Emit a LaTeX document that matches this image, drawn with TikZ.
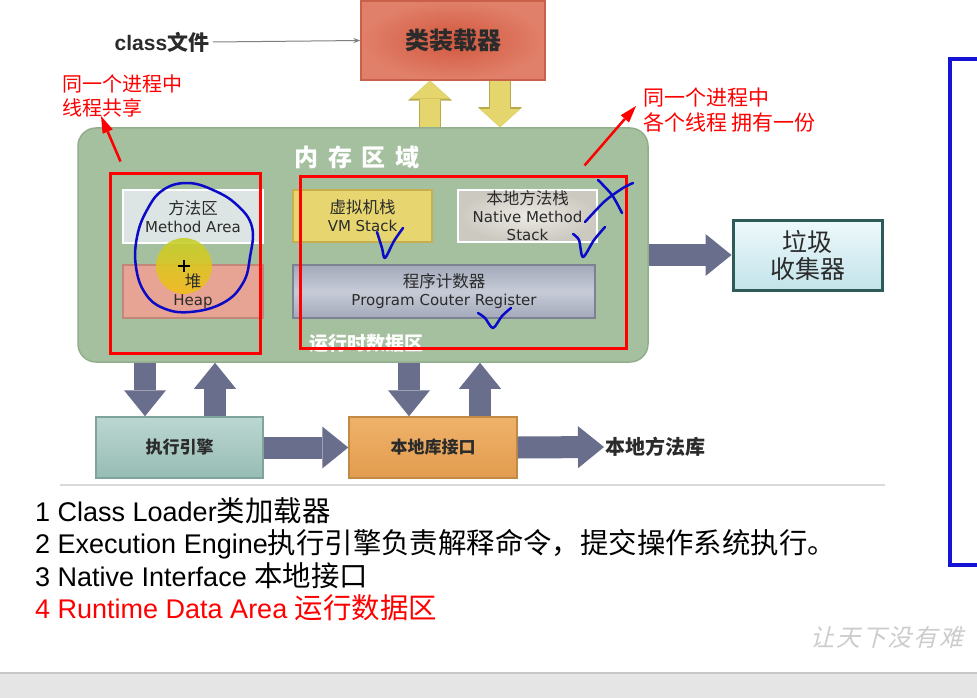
\documentclass[tikz,border=0pt]{standalone}
\usepackage{fontspec}
\setmainfont{Liberation Sans}
\newfontfamily\cjk{Noto Sans CJK SC}
\newfontfamily\titlefont[LetterSpace=40]{Noto Sans CJK SC}
\newfontfamily\boxfont{DejaVu Sans}
\newfontfamily\wmfont[FakeSlant=0.25,LetterSpace=8]{Noto Sans CJK SC}
\usetikzlibrary{arrows.meta}

\definecolor{memgreen}{HTML}{A5C09F}
\definecolor{memedge}{HTML}{93AE8D}
\definecolor{loaderin}{HTML}{D2573E}
\definecolor{loaderout}{HTML}{E1806A}
\definecolor{loaderedge}{HTML}{C8604A}
\definecolor{yfill}{HTML}{E4D66C}
\definecolor{yedge}{HTML}{B9AA4C}
\definecolor{arrowgray}{HTML}{686E8B}
\definecolor{methodfill}{HTML}{DCE5E3}
\definecolor{heapfill}{HTML}{E7A393}
\definecolor{heapedge}{HTML}{C3877A}
\definecolor{vmfill}{HTML}{E7D56F}
\definecolor{vmedge}{HTML}{C6B04E}
\definecolor{nativein}{HTML}{ECEAE4}
\definecolor{nativeout}{HTML}{CCC9C1}
\definecolor{pcrtop}{HTML}{A3A9BA}
\definecolor{pcrmid}{HTML}{C7CBD7}
\definecolor{pcredge}{HTML}{7C8294}
\definecolor{engtop}{HTML}{BCD7D1}
\definecolor{engbot}{HTML}{96BCB4}
\definecolor{engedge}{HTML}{7FA49C}
\definecolor{nattop}{HTML}{EFB26A}
\definecolor{natbot}{HTML}{E29C4F}
\definecolor{natedge}{HTML}{C38A45}
\definecolor{gctop}{HTML}{EEF9FB}
\definecolor{gcbot}{HTML}{C2E3EA}
\definecolor{gcedge}{HTML}{2E5A57}
\definecolor{inkblue}{HTML}{0A0AC8}
\definecolor{panelblue}{HTML}{1414D2}
\definecolor{boxtext}{HTML}{2B2B2B}
\definecolor{cursortop}{HTML}{C4D02A}
\definecolor{cursorbot}{HTML}{F2BC1C}

\newcommand{\boxzh}[1]{{\cjk\fontsize{16.5}{18}\selectfont #1}}
\newcommand{\listzh}[1]{{\cjk\fontsize{28.4}{32}\selectfont #1}}

\tikzset{
      areabox/.style={inner sep=0pt, line width=1.5, text=boxtext, align=center,
            font=\boxfont\fontsize{15}{18}\selectfont},
      loaderbox/.style={draw=loaderedge, line width=1.2, inner color=loaderin, outer color=loaderout,
            text=boxtext, font=\cjk\bfseries\fontsize{24}{28}\selectfont,
            minimum width=184, minimum height=79},
      membox/.style={draw=memedge, line width=1.5, fill=memgreen, rounded corners=18,
            minimum width=570, minimum height=234},
      lowbox/.style={line width=1.5, text=boxtext, font=\cjk\bfseries\fontsize{17}{20}\selectfont,
            minimum width=167, minimum height=61},
      gcbox/.style={draw=gcedge, line width=3, top color=gctop, bottom color=gcbot, text=boxtext,
            align=center, font=\cjk\fontsize{25}{27}\selectfont, minimum width=149, minimum height=70},
      redframe/.style={draw=red, line width=3},
      note/.style={text=red, align=left, inner sep=0pt, anchor=west},
      yarrow/.style={draw=yfill, line width=20, -{Triangle[width=40pt,length=18pt,line width=0pt]},
            preaction={draw=yedge, line width=22, -{Triangle[width=44pt,length=20pt,line width=0pt]}}},
      grayarrow/.style={draw=arrowgray, line width=22, -{Triangle[width=42pt,length=26pt,line width=0pt]}},
      thinarrow/.style={draw=gray, line width=1, -{Stealth[length=7pt,width=5pt]}},
      redarrow/.style={draw=red, line width=2.5, -{Triangle[width=11pt,length=17pt,line width=0pt]}},
      handink/.style={draw=inkblue, line width=2.5, line cap=round, line join=round},
      listline/.style={anchor=base west, inner sep=0pt, font=\fontsize{27}{32}\selectfont},
}

\begin{document}
\begin{tikzpicture}[x=1pt,y=-1pt]
        \useasboundingbox (0,0) rectangle (977,698);
        \fill[white] (0,0) rectangle (977,698);

        % Class loader on top
        \node[loaderbox] (loader) at (453,40.5) {类装载器};
        \node[font=\bfseries\fontsize{21}{24}\selectfont, text=boxtext] (classfile) at (162,42) {class{\cjk\bfseries 文件}};
        \draw[thinarrow] (classfile.east) -- (loader.west);

        % Memory area and its parts
        \node[membox] (mem) at (363,245) {};
        \node[text=white, font=\titlefont\bfseries\fontsize{24}{28}\selectfont] (memtitle) at (357,157) {内存区域};
        \node[text=white, font=\cjk\bfseries\fontsize{19}{22}\selectfont] (rtlabel) at (366,343) {运行时数据区};

        \node[areabox, fill=methodfill, draw=white, line width=2.5, minimum width=140, minimum height=53] (method) at (193,216.5) {\boxzh{方法区}\\Method Area};
        \node[areabox, fill=heapfill, draw=heapedge, minimum width=140, minimum height=53] (heap) at (193,291.5) {};
        \node[areabox, fill=vmfill, draw=vmedge, minimum width=139, minimum height=52] (vmstack) at (362.5,216) {\boxzh{虚拟机栈}\\VM Stack};
        \node[areabox, inner color=nativein, outer color=nativeout, draw=white, line width=2.5, minimum width=139, minimum height=52] (nativestack) at (527.5,216) {\boxzh{本地方法栈}\\Native Method\\Stack};
        \node[areabox, top color=pcrtop, bottom color=pcrtop, middle color=pcrmid, draw=pcredge, minimum width=302, minimum height=53] (pcr) at (444,291.5) {\boxzh{程序计数器}\\Program Couter Register};

        % cursor mark on the heap
        \coordinate (cursorpt) at (184,266);
        \shade[top color=cursortop, bottom color=cursorbot, opacity=.9] (cursorpt) circle (28);
        \node[areabox] (heaptext) at (heap.center) {\boxzh{堆}\\Heap};
        \draw[line width=1.8] ([xshift=-6pt]cursorpt) -- ([xshift=6pt]cursorpt)
              ([yshift=-6pt]cursorpt) -- ([yshift=6pt]cursorpt);

        % Arrows between loader and memory
        \coordinate (upa) at (430,0);
        \coordinate (downa) at (500,0);
        \draw[yarrow] (mem.north -| upa) -- (loader.south -| upa);
        \draw[yarrow] (loader.south -| downa) -- (mem.north -| downa);

        % Garbage collector
        \node[gcbox] (gc) at (807.5,255) {垃圾\\收集器};
        \draw[grayarrow] (mem.east |- gc.west) -- (gc.west);

        % Engine and native interface
        \node[lowbox, draw=engedge, top color=engtop, bottom color=engbot] (engine) at (179.5,447.5) {执行引擎};
        \node[lowbox, draw=natedge, top color=nattop, bottom color=natbot, minimum width=168] (native) at (433,447.5) {本地库接口};
        \node[anchor=west, inner sep=1pt, text=boxtext, font=\cjk\bfseries\fontsize{20}{24}\selectfont] (natlib) at (604,447) {本地方法库};

        \coordinate (d1) at (145,0);
        \coordinate (u1) at (215,0);
        \coordinate (d2) at (409,0);
        \coordinate (u2) at (480,0);
        \draw[grayarrow] (mem.south -| d1) -- (engine.north -| d1);
        \draw[grayarrow] (engine.north -| u1) -- (mem.south -| u1);
        \draw[grayarrow] (mem.south -| d2) -- (native.north -| d2);
        \draw[grayarrow] (native.north -| u2) -- (mem.south -| u2);
        \draw[grayarrow] (engine.east) -- (native.west);
        \draw[grayarrow] (native.east) -- (natlib.west);

        % Red frames and notes
        \node[redframe, minimum width=150, minimum height=180] (shared) at (185,263) {};
        \node[redframe, minimum width=326, minimum height=172] (perthread) at (463,262) {};

        \node[note, font=\cjk\fontsize{20}{24}\selectfont] (sharednote) at (62,96) {同一个进程中\\线程共享};
        \node[note, font=\cjk\fontsize{21}{25}\selectfont] (threadnote) at (643,110.5) {同一个进程中\\各个线程 拥有一份};
        \coordinate (sharedtip) at (101,116);
        \coordinate (threadtip) at (636,106);
        \draw[redarrow] ([xshift=12pt,yshift=10pt]shared.north west) -- (sharedtip);
        \draw[redarrow] ([xshift=-43pt,yshift=9pt]perthread.north east) -- (threadtip);

        % Hand drawn marks
        \draw[handink] plot[smooth cycle, tension=.7] coordinates {(187,183) (213,190) (237,205) (252,227) (250,257) (243,283) (223,303) (190,312) (163,308) (145,293) (136,267) (137,237) (147,210) (163,190)};
        \draw[handink] plot[smooth] coordinates {(377,232) (382,248) (385,258) (394,241) (403,228)};
        \draw[handink] plot[smooth] coordinates {(573,234) (579,240) (583,257) (594,240) (605,227)};
        \draw[handink] plot[smooth] coordinates {(478,313) (485,318) (493,328) (502,316) (511,308)};
        \draw[handink] plot[smooth] coordinates {(585,222) (605,201) (623,188) (633,183)};
        \draw[handink] plot[smooth] coordinates {(598,180) (612,195) (622,213)};

        % Text under the picture
        \draw[draw=black!15, line width=1.5] (60,485) -- (885,485);
        \node[listline] (item1) at (35,521) {1 Class Loader\listzh{类加载器}};
        \node[listline] (item2) at (35,553) {2 Execution Engine\listzh{执行引擎负责解释命令，提交操作系统执行。}};
        \node[listline] (item3) at (35,586) {3 Native Interface \listzh{本地接口}};
        \node[listline, text=red] (item4) at (35,618) {4 Runtime Data Area \listzh{运行数据区}};

        % Screen leftovers
        \draw[draw=panelblue, line width=4] (990,59) -- (950,59) -- (950,565) -- (990,565);
        \node[anchor=west, inner sep=0pt, text=black!20, font=\wmfont\fontsize{24}{28}\selectfont] (watermark) at (810,637) {让天下没有难};
        \fill[black!10] (0,673) rectangle (977,698);
        \draw[draw=black!22, line width=1.5] (0,673) -- (977,673);

\end{tikzpicture}
\end{document}
